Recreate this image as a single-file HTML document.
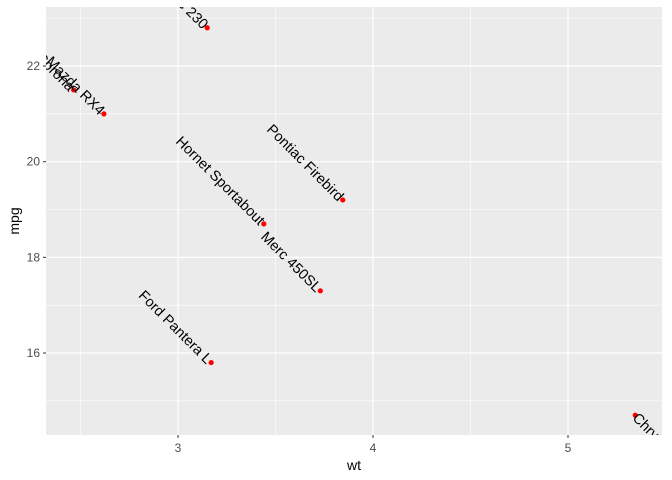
<!DOCTYPE html>
<html><head><meta charset="utf-8"><style>body{margin:0;background:#fff}svg{display:block}text{font-family:"Liberation Sans",sans-serif}</style></head>
<body>
<svg id="chart" width="672" height="480">
<defs><clipPath id="clip"><rect x="46" y="7" width="616" height="428"/></clipPath></defs>
<rect x="46" y="7" width="616" height="428" fill="#ebebeb"/>
<g id="grid"></g>
<g id="pts" clip-path="url(#clip)"></g>
<g id="axes"></g>
<text x="354" y="470" text-anchor="middle" font-size="14" fill="#000">wt</text>
<text transform="translate(19,221) rotate(-90)" text-anchor="middle" font-size="14" fill="#000">mpg</text>
</svg>
<script>
const names=["Merc 230","Toyota Corona","Mazda RX4","Hornet Sportabout","Pontiac Firebird","Merc 450SL","Ford Pantera L","Chrysler Imperial"];
const wt=[3.15,2.465,2.62,3.44,3.845,3.73,3.17,5.345];
const mpg=[22.8,21.5,21.0,18.7,19.2,17.3,15.8,14.7];
const xTicks=[3,4,5];
const yTicks=[16,18,20,22];
const xMinor=[2.5,3.5,4.5,5.5];
const yMinor=[15,17,19,21,23];
const X=v=>178+(v-3)*195;
const Y=v=>353-(v-16)*47.83;
const ns="http://www.w3.org/2000/svg";
function mk(t,a,p){const e=document.createElementNS(ns,t);for(const k in a)e.setAttribute(k,a[k]);p.appendChild(e);return e;}
const g=document.getElementById('grid'),ax=document.getElementById('axes'),pg=document.getElementById('pts');
xMinor.forEach(v=>{if(X(v)<662){const l=mk('line',{x1:X(v),x2:X(v),y1:7,y2:435,stroke:'#fff','stroke-width':0.6},g);

}});
yMinor.forEach(v=>{if(Y(v)>7){const l=mk('line',{x1:46,x2:662,y1:Y(v),y2:Y(v),stroke:'#fff','stroke-width':0.6},g);

}});
xTicks.forEach(v=>{const l=mk('line',{x1:X(v),x2:X(v),y1:7,y2:435,stroke:'#fff','stroke-width':1.2},g);


const t=mk('line',{x1:X(v),x2:X(v),y1:435,y2:438,stroke:'#333','stroke-width':1},ax);


const tx=mk('text',{x:X(v),y:452,'text-anchor':'middle','font-size':12,fill:'#4d4d4d'},ax);tx.textContent=v;

});
yTicks.forEach(v=>{const l=mk('line',{x1:46,x2:662,y1:Y(v),y2:Y(v),stroke:'#fff','stroke-width':1.2},g);


const t=mk('line',{x1:43,x2:46,y1:Y(v),y2:Y(v),stroke:'#333','stroke-width':1},ax);


const tx=mk('text',{x:40,y:Y(v)+4,'text-anchor':'end','font-size':12,fill:'#4d4d4d'},ax);tx.textContent=v;

});
names.forEach((n,i)=>{const x=X(wt[i]),y=Y(mpg[i]);
const c=mk('circle',{cx:x,cy:y,r:2.6,fill:'red'},pg);


const start=wt[i]>5;
const t=mk('text',{transform:`translate(${x},${y}) rotate(45)`,x:start?0:-2,y:5,'text-anchor':start?'start':'end','font-size':14.5,fill:'#000'},pg);
t.textContent=n;

});
</script>
</body></html>
